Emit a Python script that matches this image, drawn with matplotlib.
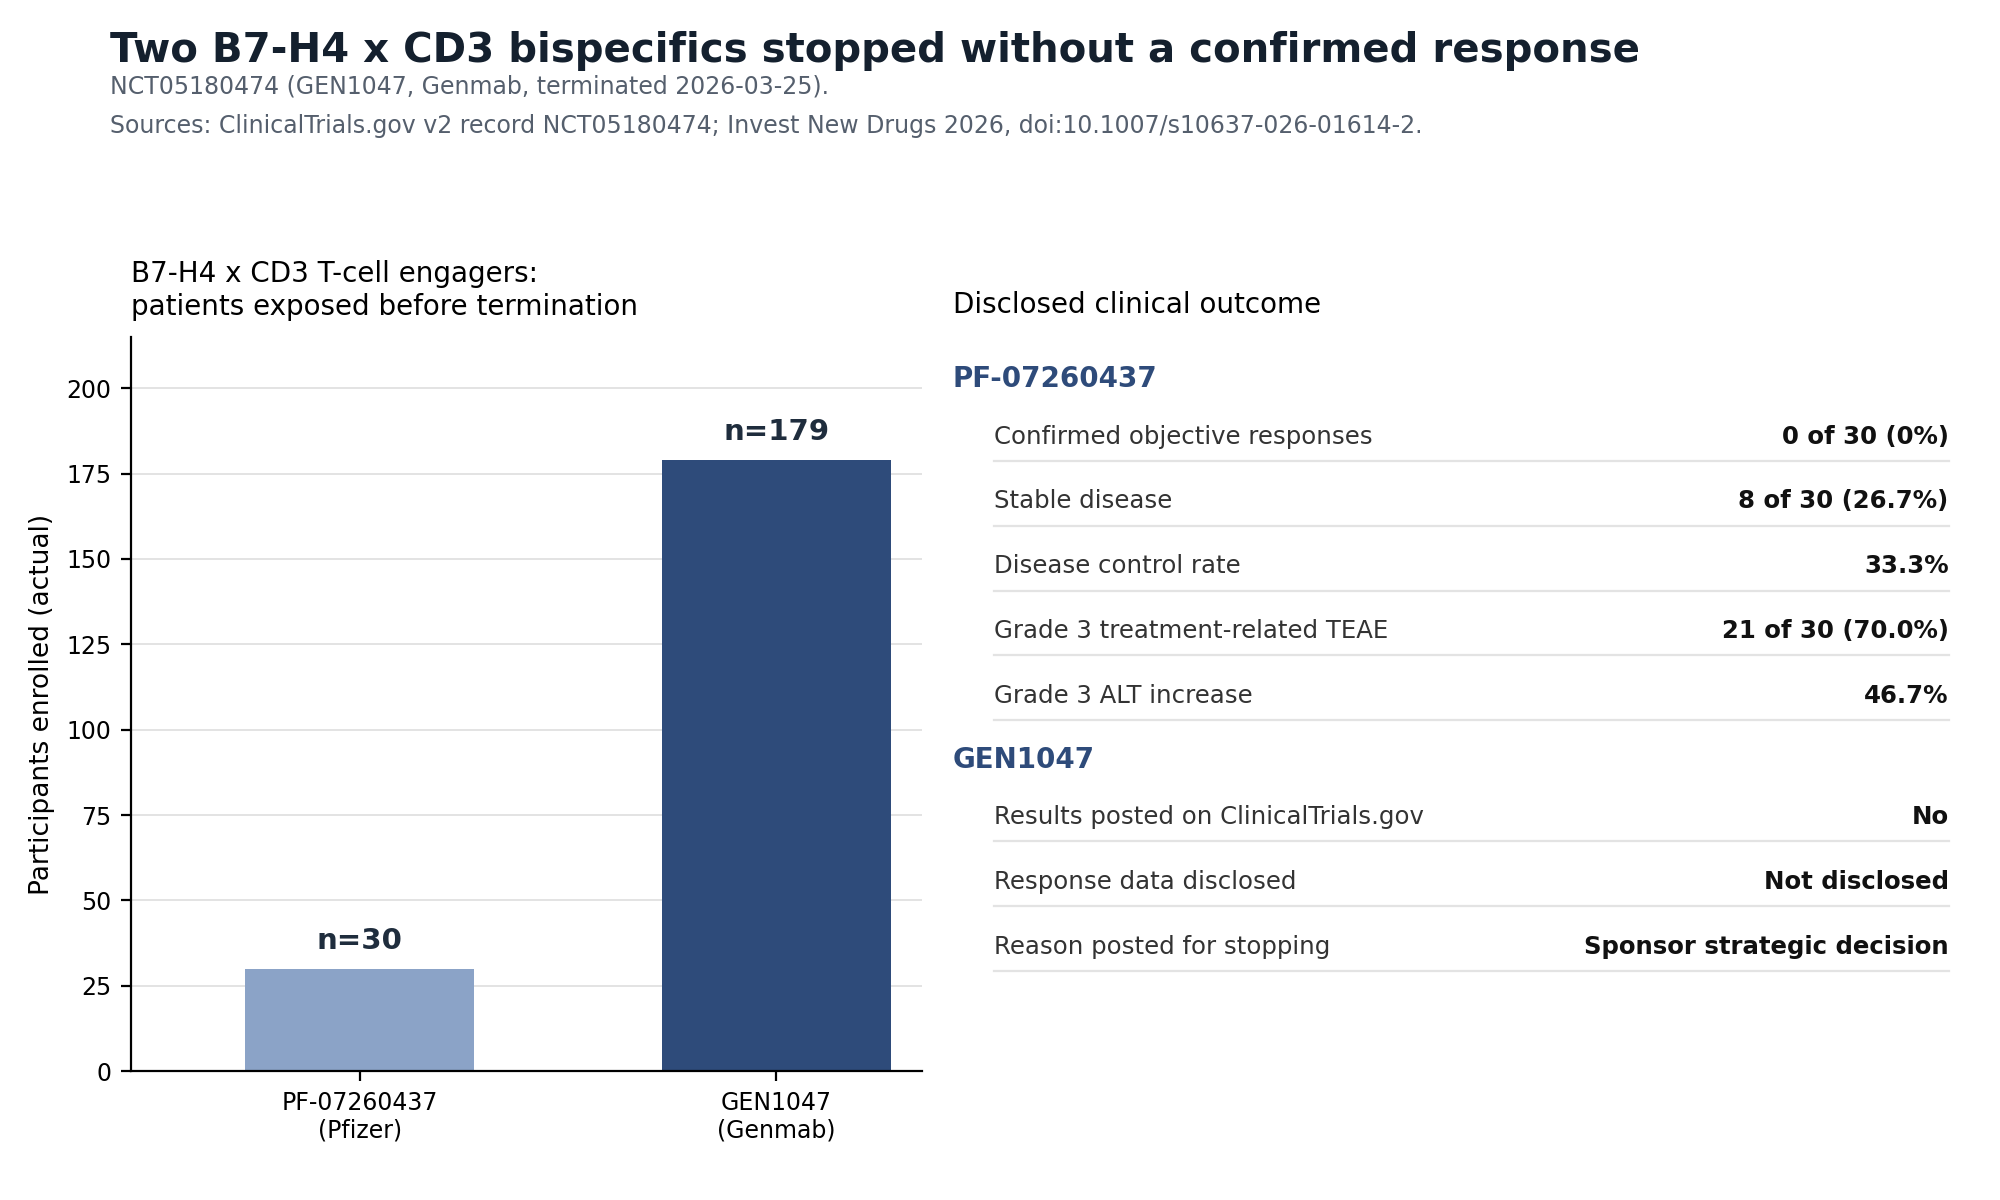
import matplotlib
matplotlib.use("Agg")
import matplotlib.pyplot as plt

drugs = ["PF-07260437\n(Pfizer)", "GEN1047\n(Genmab)"]
enrolled = [30, 179]
bar_colors = ["#8ba3c7", "#2e4b7a"]

pf_rows = [("Confirmed objective responses", "0 of 30 (0%)"),
           ("Stable disease", "8 of 30 (26.7%)"),
           ("Disease control rate", "33.3%"),
           ("Grade 3 treatment-related TEAE", "21 of 30 (70.0%)"),
           ("Grade 3 ALT increase", "46.7%")]
gen_rows = [("Results posted on ClinicalTrials.gov", "No"),
            ("Response data disclosed", "Not disclosed"),
            ("Reason posted for stopping", "Sponsor strategic decision")]

W, H = 1560.0, 940.0
fig = plt.figure(figsize=(10, 6), dpi=200)

def fx(x): return x / W
def fy(y): return 1 - y / H

fig.text(fx(86), fy(40), "Two B7-H4 x CD3 bispecifics stopped without a confirmed response",
         fontsize=14.5, fontweight="bold", color="#14202e", va="center")
fig.text(fx(86), fy(68), "NCT05180474 (GEN1047, Genmab, terminated 2026-03-25).",
         fontsize=8.5, color="#555f6d", va="center")
fig.text(fx(86), fy(99), "Sources: ClinicalTrials.gov v2 record NCT05180474; Invest New Drugs 2026, doi:10.1007/s10637-026-01614-2.",
         fontsize=8.5, color="#555f6d", va="center")

ax = fig.add_axes([fx(102), fy(839), fx(719) - fx(102), fy(264) - fy(839)])
x = range(len(drugs))
bars = ax.bar(x, enrolled, width=0.55, color=bar_colors, zorder=2)
for b, v in zip(bars, enrolled):
    ax.text(b.get_x() + b.get_width() / 2, v + 4, f"n={v}", ha="center", va="bottom",
            fontsize=10.5, fontweight="bold", color="#1f2d3d")
ax.set_xticks(list(x))
ax.set_xticklabels(drugs, fontsize=8.5)
ax.set_ylim(0, 215)
ax.set_yticks(range(0, 201, 25))
ax.tick_params(axis="y", labelsize=8.5)
ax.set_xlim(-0.55, 1.35)
ax.grid(axis="y", color="#e3e3e3", linewidth=0.7, zorder=0)
ax.spines["top"].set_visible(False)
ax.spines["right"].set_visible(False)
ax.set_ylabel("Participants enrolled (actual)", fontsize=9.5)
ax.set_title("B7-H4 x CD3 T-cell engagers:\npatients exposed before termination",
             loc="left", fontsize=10, pad=8)

fig.text(fx(743), fy(239), "Disclosed clinical outcome", fontsize=10, va="center")

def section(header, hy, rows):
    fig.text(fx(743), fy(hy), header, fontsize=10, fontweight="bold", color="#2e4b7a", va="center")
    y = hy + 45
    for label, val in rows:
        fig.text(fx(775), fy(y), label, fontsize=8.8, color="#333333", va="center")
        fig.text(fx(1520), fy(y), val, fontsize=8.8, fontweight="bold", color="#111111",
                 va="center", ha="right")
        fig.add_artist(plt.Line2D([fx(775), fx(1520)], [fy(y + 19), fy(y + 19)],
                                  color="#e3e3e3", linewidth=0.8))
        y += 50.8

section("PF-07260437", 297, pf_rows)
section("GEN1047", 595, gen_rows)

fig.savefig("out.png")
